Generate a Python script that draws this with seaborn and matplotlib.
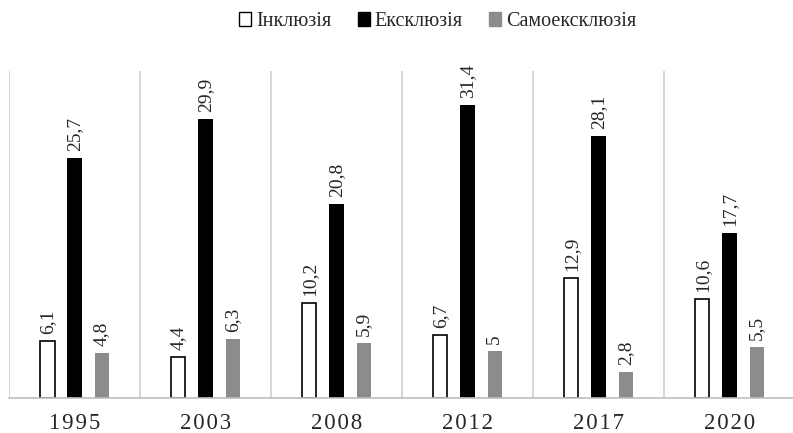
import numpy as np
import pandas as pd
import matplotlib
matplotlib.use("Agg")
import matplotlib.pyplot as plt
import seaborn as sns
from matplotlib.patches import Patch

# DATA
years = ["1995", "2003", "2008", "2012", "2017", "2020"]
series = ["Інклюзія", "Ексклюзія", "Самоексклюзія"]
inclusion = [6.1, 4.4, 10.2, 6.7, 12.9, 10.6]
exclusion = [25.7, 29.9, 20.8, 31.4, 28.1, 17.7]
self_exclusion = [4.8, 6.3, 5.9, 5.0, 2.8, 5.5]

df = pd.DataFrame({
    "year": years * 3,
    "series": [series[0]] * 6 + [series[1]] * 6 + [series[2]] * 6,
    "value": inclusion + exclusion + self_exclusion,
})

# STYLE
sns.set_style("white")
plt.rcParams["font.family"] = ["Liberation Serif", "DejaVu Serif"]

fills = {series[0]: "#ffffff", series[1]: "#000000", series[2]: "#8c8c8c"}
edges = {series[0]: "#000000", series[1]: "#000000", series[2]: "#8c8c8c"}

fig = plt.figure(figsize=(7.93, 4.33), dpi=100)
ax = fig.add_axes([0.0114, 0.081, 0.9886, 0.754])

sns.barplot(data=df, x="year", y="value", hue="series", order=years,
            hue_order=series, palette=fills, width=0.62, gap=0.48,
            legend=False, ax=ax)

# edge colours + value labels
for container, s in zip(ax.containers, series):
    for bar in container:
        bar.set_edgecolor(edges[s])
        bar.set_linewidth(1.2 if s == series[0] else 0)
    labels = [f"{v:g}".replace(".", ",") for v in container.datavalues]
    ax.bar_label(container, labels=labels, rotation=90, padding=5, fontsize=14)

ax.set_xlim(-0.5, 5.485)
ax.set_ylim(0, 35)
ax.set_yticks([])
ax.set_xlabel("")
ax.set_ylabel("")
# spaced-out year labels like the original
ax.set_xticks(range(len(years)))
ax.set_xticklabels(["\u200a".join(y) for y in years])

# vertical separators between groups
for b in np.arange(-0.5, 6.0, 1.0):
    ax.axvline(b, color="#d0d0d0", lw=1.2, zorder=0)

for side in ["top", "right", "left"]:
    ax.spines[side].set_visible(False)
ax.spines["bottom"].set_color("#bfbfbf")
ax.spines["bottom"].set_linewidth(1.2)
ax.tick_params(axis="x", length=0, pad=11, labelsize=16.5)

handles = [Patch(facecolor=fills[s], edgecolor=edges[s] if s == series[0] else fills[s],
                 linewidth=1.0, label=s) for s in series]
fig.legend(handles=handles, loc="upper center", bbox_to_anchor=(0.552, 1.015),
           ncol=3, frameon=False,
           prop={"family": ["Liberation Serif", "DejaVu Serif"], "size": 14.5},
           handlelength=0.6, handleheight=0.7, handletextpad=0.25,
           columnspacing=1.3)

fig.savefig("out.png", dpi=100)
